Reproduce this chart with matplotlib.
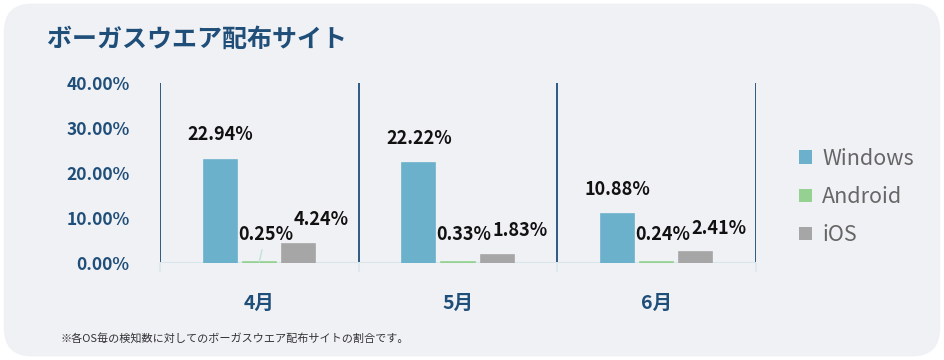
import matplotlib.pyplot as plt
from matplotlib.patches import FancyBboxPatch, Patch
import numpy as np

plt.rcParams['font.family'] = ['Noto Sans CJK JP', 'DejaVu Sans']

months = ['4月', '5月', '6月']
windows = [22.94, 22.22, 10.88]
android = [0.25, 0.33, 0.24]
ios = [4.24, 1.83, 2.41]
series_names = ['Windows', 'Android', 'iOS']
yticks = [0, 10, 20, 30, 40]

colors = ['#6bb1cc', '#95d291', '#a6a6a6']
navy = '#1f4e79'
bg = '#f0f1f5'

fig = plt.figure(figsize=(9.44, 3.6), dpi=100)
fig.patch.set_facecolor('white')
fig.patches.append(FancyBboxPatch((0.004, 0.01), 0.992, 0.98,
                                  boxstyle='round,pad=0,rounding_size=0.03',
                                  transform=fig.transFigure, facecolor=bg,
                                  edgecolor='none', zorder=-5,
                                  mutation_aspect=944 / 360))

ax = fig.add_axes([160 / 944, 97 / 360, 596 / 944, 180 / 360])
ax.set_facecolor('none')
for s in ax.spines.values():
    s.set_visible(False)

x = np.arange(len(months))
bw = 0.167
step = 0.197
# label offsets in pixels (dx, dy) from the bar top centre
offsets = [(0, 25), (6, 27), (23, 24)]
for i, (vals, name) in enumerate(zip([windows, android, ios], series_names)):
    pos = x + (i - 1) * step
    ax.bar(pos, vals, width=bw, color=colors[i], edgecolor=colors[i],
           linewidth=1.2, label=name, zorder=3)
    for j, (p, v) in enumerate(zip(pos, vals)):
        kw = {}
        if i == 1 and j == 0:
            kw['arrowprops'] = dict(arrowstyle='-', color='#bfe3d9', lw=1,
                                    shrinkA=2, shrinkB=0)
        ax.annotate(f'{v:.2f}%', (p, v), xytext=offsets[i],
                    textcoords='offset pixels', ha='center', va='center',
                    fontsize=13, fontweight='bold', color='#111111', **kw)

ax.set_xlim(-0.5, 2.5)
ax.set_ylim(0, 40)
ax.vlines([-0.5, 0.5, 1.5, 2.5], 0, 40, color=navy, lw=1.3, zorder=2)
ax.vlines([-0.5, 0.5, 1.5, 2.5], -2, 0, color='#dbe8ec', lw=1.2, clip_on=False)
ax.axhline(0, color='#d6e6ea', lw=1.5, zorder=2.5)

ax.set_yticks(yticks)
ax.set_yticklabels([f'{v:.2f}%' for v in yticks], fontsize=12.5,
                   fontweight='bold', color=navy)
ax.set_xticks(x)
ax.set_xticklabels(months, fontsize=14, fontweight='bold', color=navy)
ax.tick_params(axis='y', length=0, pad=22)
ax.tick_params(axis='x', length=0, pad=22)

fig.text(47 / 944, 320 / 360, 'ボーガスウエア配布サイト', fontsize=18,
         fontweight='bold', color=navy, va='center', ha='left')
fig.text(60 / 944, 22 / 360, '※各OS毎の検知数に対してのボーガスウエア配布サイトの割合です。',
         fontsize=8, color='#333333', va='center', ha='left')

handles = [Patch(facecolor=c, edgecolor='none') for c in colors]
fig.legend(handles, series_names, loc='center left',
           bbox_to_anchor=(780 / 944, 163 / 360), frameon=False,
           fontsize=15.5, labelcolor='#666666', handlelength=0.6,
           handleheight=0.6, handletextpad=0.45, labelspacing=0.75)

fig.savefig('out.png', dpi=100, facecolor=fig.get_facecolor())
